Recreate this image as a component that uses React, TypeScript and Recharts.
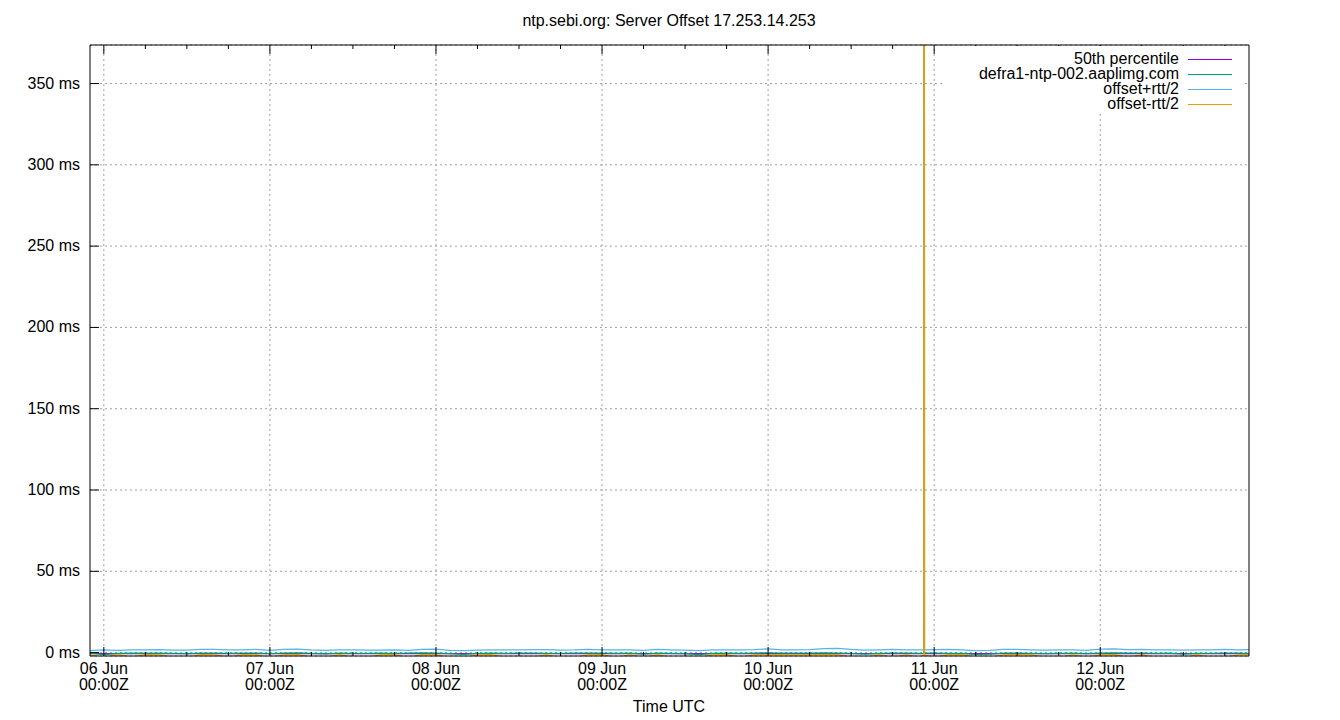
import { CartesianGrid, Line, LineChart, ReferenceLine, XAxis, YAxis } from 'recharts'

// hours since 06 Jun 00:00Z
const hours = [
  -2, 0, 2, 4, 6, 8, 10, 12, 14, 16, 18, 20, 22, 24,
  26, 28, 30, 32, 34, 36, 38, 40, 42, 44, 46, 48,
  50, 52, 54, 56, 58, 60, 62, 64, 66, 68, 70, 72,
  74, 76, 78, 80, 82, 84, 86, 88, 90, 92, 94, 96,
  98, 100, 102, 104, 106, 108, 110, 112, 114, 116, 118,
  118.5, 118.55, 118.6,
  120, 122, 124, 126, 128, 130, 132, 134, 136, 138, 140, 142,
  144, 146, 148, 150, 152, 154, 156, 158, 160, 162, 164, 166,
]

const median = [
  -0.6, -0.6, -0.6, -0.6, -0.5, -0.6, -0.6, -0.6, -0.6, -0.6, -0.6, -0.6, -0.6, -0.6,
  -0.6, -0.6, -0.6, -0.7, -0.6, -0.6, -0.6, -0.6, -0.6, -0.6, -0.6, -0.6,
  -0.6, -0.7, -0.6, -0.6, -0.6, -0.6, -0.6, -0.6, -0.6, -0.6, -0.6, -0.6,
  -0.6, -0.6, -0.7, -0.6, -0.6, -0.6, -0.7, -0.6, -0.6, -0.6, -0.6, -0.6,
  -0.6, -0.6, -0.6, -0.6, -0.6, -0.6, -0.7, -0.6, -0.6, -0.6, -0.6,
  -0.6, -0.6, -0.6,
  -0.6, -0.6, -0.6, -0.7, -0.7, -0.6, -0.6, -0.6, -0.6, -0.6, -0.6, -0.6,
  -0.6, -0.6, -0.6, -0.6, -0.6, -0.6, -0.7, -0.6, -0.6, -0.6, -0.6, -0.7,
]

const offset = [
  -0.4, -1.2, -0.5, -0.3, -0.5, -0.4, -0.5, -0.6, -0.3, -0.4, -0.5, -0.4, -0.3, -0.6,
  -0.3, -0.2, -0.5, -0.8, -0.4, -0.5, -0.5, -0.4, -0.5, -0.4, -0.2, -0.3,
  -0.7, -1.1, -0.5, -0.4, -0.5, -0.4, -0.3, -0.5, -0.5, -0.4, -0.3, -0.4,
  -0.5, -0.4, -1.0, -0.4, -0.5, -0.6, -1.2, -0.5, -0.4, -0.5, -0.3, -0.2,
  -0.4, -0.4, -0.3, -0.2, -0.3, -0.5, -1.0, -0.5, -0.4, -0.4, -0.5,
  -0.4, 1505, -0.4,
  -0.4, -0.5, -0.5, -1.1, -0.9, -0.4, -0.3, -0.5, -0.6, -0.5, -0.4, -0.7,
  -0.3, -0.2, -0.4, -0.4, -0.5, -0.4, -1.0, -0.5, -0.5, -0.4, -0.4, -0.6,
]

const offsetPlus = [
  1.2, 1.7, 1.3, 1.6, 1.6, 1.8, 1.5, 1.5, 1.9, 1.9, 1.6, 1.7, 2.0, 1.4,
  1.9, 2.1, 1.6, 1.4, 1.7, 1.6, 1.5, 1.5, 1.7, 1.4, 1.9, 2.1,
  1.4, 1.2, 1.5, 1.6, 1.7, 1.6, 1.8, 1.8, 1.5, 1.6, 2.0, 1.7,
  1.6, 1.7, 1.4, 1.9, 1.7, 1.5, 1.2, 1.6, 1.7, 1.6, 1.8, 2.3,
  1.6, 1.7, 1.8, 2.4, 2.6, 1.9, 1.5, 1.7, 1.9, 1.6, 1.7,
  1.6, 1520, 1.7,
  1.8, 1.9, 1.6, 1.2, 1.4, 1.9, 2.0, 1.7, 1.5, 1.6, 1.7, 1.4,
  2.1, 2.3, 1.8, 1.9, 1.6, 1.7, 1.5, 1.6, 1.6, 1.9, 1.7, 1.8,
]

const offsetMinus = [
  -1.4, -3.0, -1.3, -2.8, -1.3, -1.4, -2.9, -3.1, -1.3, -1.4, -2.8, -1.3, -1.4, -3.0,
  -1.4, -1.2, -2.9, -3.1, -1.3, -2.8, -3.0, -1.4, -1.3, -3.0, -1.2, -1.4,
  -2.9, -3.2, -1.4, -1.3, -2.9, -3.0, -2.8, -1.4, -3.1, -2.9, -1.4, -1.3,
  -3.0, -1.4, -2.9, -1.4, -3.0, -2.8, -3.1, -1.4, -1.3, -2.9, -1.4, -1.2,
  -1.3, -1.4, -1.3, -1.2, -1.3, -2.9, -3.1, -1.4, -2.9, -1.4, -3.0,
  -1.4, 1490, -1.5,
  -2.8, -1.4, -1.3, -3.0, -3.1, -1.4, -1.3, -1.4, -2.9, -3.0, -1.4, -2.9,
  -1.4, -1.2, -2.8, -1.4, -3.0, -2.9, -3.1, -1.4, -2.9, -3.0, -1.4, -1.3,
]

const dayTicks = [0, 24, 48, 72, 96, 120, 144]
const dayLabels = ['06 Jun', '07 Jun', '08 Jun', '09 Jun', '10 Jun', '11 Jun', '12 Jun']
const sixHourTicks = [
  0, 6, 12, 18, 24, 30, 36, 42, 48, 54, 60, 66, 72, 78, 84, 90, 96, 102,
  108, 114, 120, 126, 132, 138, 144, 150, 156, 162,
]
const msTicks = [0, 50, 100, 150, 200, 250, 300, 350]

const seriesKeys = ['median', 'offset', 'plus', 'minus']
const seriesNames = ['50th percentile', 'defra1-ntp-002.aaplimg.com', 'offset+rtt/2', 'offset-rtt/2']
const seriesColors = ['#9400d3', '#009e73', '#56b4e9', '#e69f00']

const xDomain = [-2, 165.5]
const yDomain = [-2.1, 373.7]

const rows = hours.map((h, i) => ({
  h,
  median: median[i],
  offset: offset[i],
  plus: offsetPlus[i],
  minus: offsetMinus[i],
}))

const font = '"Liberation Sans", Arial, sans-serif'

function BottomTick(props: any) {
  const { x, y, payload } = props
  const idx = dayTicks.indexOf(payload.value)
  const major = idx >= 0
  return (
    <g>
      <line x1={x} x2={x} y1={y} y2={y - (major ? 9 : 4)} stroke='#000' />
      {major && (
        <text x={x} y={y} textAnchor='middle' fontSize={16} fontFamily={font} fill='#000'>
          <tspan x={x} dy={18}>{dayLabels[idx]}</tspan>
          <tspan x={x} dy={16}>00:00Z</tspan>
        </text>
      )}
    </g>
  )
}

function TopTick(props: any) {
  const { x, y, payload } = props
  const major = dayTicks.includes(payload.value)
  return <line x1={x} x2={x} y1={y} y2={y + (major ? 9 : 4)} stroke='#000' />
}

function LeftTick(props: any) {
  const { x, y, payload } = props
  return (
    <g>
      <line x1={x} x2={x + 9} y1={y} y2={y} stroke='#000' />
      <text x={x - 10} y={y + 5} textAnchor='end' fontSize={16} fontFamily={font} fill='#000'>
        {`${payload.value} ms`}
      </text>
    </g>
  )
}

export default function App() {
  return (
    <div style={{ position: 'absolute', left: 0, top: 0, width: 1340, height: 720, background: '#fff', fontFamily: font }}>
      <LineChart width={1340} height={720} data={rows} margin={{ top: 44, right: 90, bottom: 0, left: 0 }}>
        <CartesianGrid vertical={false} stroke='#a0a0a0' strokeDasharray='2 3' />
        {dayTicks.map((d) => (
          <ReferenceLine key={d} x={d} stroke='#a0a0a0' strokeDasharray='2 3' />
        ))}
        <XAxis
          dataKey='h'
          type='number'
          domain={xDomain}
          allowDataOverflow
          ticks={sixHourTicks}
          interval={0}
          height={64}
          tickSize={0}
          tickMargin={0}
          tickLine={false}
          axisLine={{ stroke: '#000' }}
          tick={(p: any) => <BottomTick {...p} />}
        />
        <XAxis
          xAxisId='top'
          orientation='top'
          dataKey='h'
          type='number'
          domain={xDomain}
          allowDataOverflow
          ticks={sixHourTicks}
          interval={0}
          height={1}
          tickSize={0}
          tickMargin={0}
          tickLine={false}
          axisLine={{ stroke: '#000' }}
          tick={(p: any) => <TopTick {...p} />}
        />
        <YAxis
          type='number'
          domain={yDomain}
          allowDataOverflow
          ticks={msTicks}
          interval={0}
          width={90}
          tickSize={0}
          tickMargin={0}
          tickLine={false}
          axisLine={{ stroke: '#000' }}
          tick={(p: any) => <LeftTick {...p} />}
        />
        <YAxis
          yAxisId='right'
          orientation='right'
          type='number'
          domain={yDomain}
          allowDataOverflow
          width={1}
          tick={false}
          tickLine={false}
          axisLine={{ stroke: '#000' }}
        />
        {seriesKeys.map((k, i) => (
          <Line
            key={k}
            type='linear'
            dataKey={k}
            stroke={seriesColors[i]}
            strokeWidth={1.25}
            dot={false}
            isAnimationActive={false}
          />
        ))}
      </LineChart>

      <div style={{ position: 'absolute', left: 0, top: 12, width: 1338, textAlign: 'center', fontSize: 16, lineHeight: '18px' }}>
        ntp.sebi.org: Server Offset 17.253.14.253
      </div>
      <div style={{ position: 'absolute', left: 0, top: 698, width: 1338, textAlign: 'center', fontSize: 16, lineHeight: '18px' }}>
        Time UTC
      </div>

      <div style={{ position: 'absolute', left: 943, top: 46, width: 300, height: 67, background: '#fff' }}>
        {seriesNames.map((name, i) => (
          <div key={name} style={{ position: 'absolute', right: 64, top: 4 + i * 15, whiteSpace: 'nowrap', fontSize: 16, lineHeight: '18px' }}>
            {name}
          </div>
        ))}
        <svg width={300} height={67} style={{ position: 'absolute', left: 0, top: 0 }}>
          {seriesColors.map((c, i) => (
            <line key={c} x1={245} x2={289} y1={13.5 + i * 15} y2={13.5 + i * 15} stroke={c} strokeWidth={1.25} shapeRendering='crispEdges' />
          ))}
        </svg>
      </div>
    </div>
  )
}
